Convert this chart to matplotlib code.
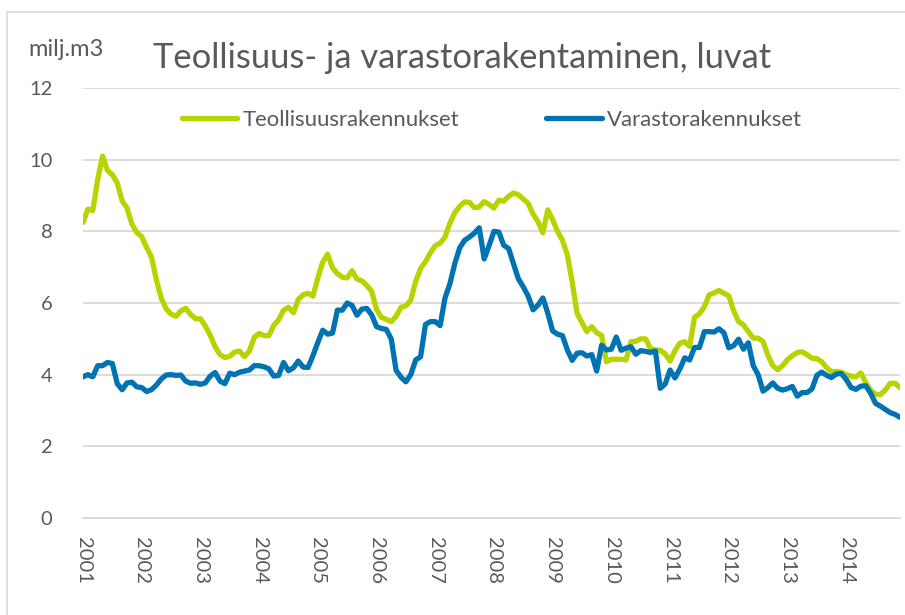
import numpy as np
import matplotlib
matplotlib.use('Agg')
import matplotlib.pyplot as plt
from matplotlib.lines import Line2D

plt.rcParams['font.family'] = ['Lato', 'DejaVu Sans']

years = [str(y) for y in range(2001, 2015)]

# monthly values 2001-01 .. 2014-12, milj. m3
teollisuus = [
    8.25, 8.62, 8.58, 9.45, 10.1, 9.70, 9.58, 9.35, 8.85, 8.65, 8.20, 7.97,
    7.85, 7.55, 7.28, 6.65, 6.13, 5.84, 5.69, 5.63, 5.78, 5.85, 5.68, 5.56,
    5.56, 5.36, 5.10, 4.78, 4.56, 4.48, 4.51, 4.63, 4.66, 4.50, 4.66, 5.04,
    5.15, 5.09, 5.09, 5.38, 5.53, 5.80, 5.88, 5.73, 6.10, 6.23, 6.27, 6.19,
    6.70, 7.14, 7.36, 6.98, 6.82, 6.72, 6.70, 6.90, 6.67, 6.62, 6.49, 6.33,
    5.82, 5.60, 5.54, 5.48, 5.63, 5.88, 5.92, 6.08, 6.60, 6.96, 7.15, 7.40,
    7.60, 7.67, 7.84, 8.23, 8.52, 8.70, 8.82, 8.81, 8.66, 8.68, 8.83, 8.75,
    8.65, 8.87, 8.84, 8.98, 9.07, 9.02, 8.90, 8.78, 8.48, 8.27, 7.96, 8.60,
    8.32, 8.00, 7.75, 7.34, 6.58, 5.71, 5.45, 5.20, 5.34, 5.17, 5.10, 4.36,
    4.43, 4.43, 4.43, 4.41, 4.92, 4.93, 5.00, 5.00, 4.73, 4.69, 4.68, 4.58,
    4.38, 4.67, 4.88, 4.92, 4.79, 5.60, 5.70, 5.89, 6.23, 6.28, 6.35, 6.27,
    6.20, 5.78, 5.48, 5.39, 5.20, 5.02, 5.02, 4.93, 4.54, 4.25, 4.14, 4.25,
    4.42, 4.53, 4.62, 4.64, 4.56, 4.46, 4.45, 4.36, 4.20, 4.08, 4.09, 4.07,
    4.00, 3.96, 3.94, 4.05, 3.78, 3.56, 3.46, 3.44, 3.57, 3.76, 3.76, 3.64,
]

varasto = [
    3.94, 4.00, 3.94, 4.25, 4.25, 4.34, 4.31, 3.75, 3.58, 3.77, 3.79, 3.66,
    3.64, 3.53, 3.58, 3.71, 3.88, 3.99, 4.00, 3.98, 3.99, 3.82, 3.76, 3.77,
    3.73, 3.77, 3.96, 4.06, 3.82, 3.75, 4.04, 4.00, 4.07, 4.10, 4.13, 4.25,
    4.25, 4.22, 4.16, 3.96, 3.98, 4.34, 4.11, 4.19, 4.38, 4.21, 4.20, 4.53,
    4.90, 5.24, 5.13, 5.16, 5.80, 5.80, 6.00, 5.93, 5.66, 5.83, 5.85, 5.67,
    5.34, 5.29, 5.26, 5.00, 4.12, 3.93, 3.80, 4.00, 4.41, 4.50, 5.40, 5.48,
    5.48, 5.37, 6.14, 6.54, 7.10, 7.54, 7.75, 7.84, 7.95, 8.10, 7.23, 7.60,
    8.00, 7.98, 7.61, 7.52, 7.10, 6.67, 6.45, 6.19, 5.81, 5.94, 6.14, 5.72,
    5.22, 5.13, 5.09, 4.69, 4.40, 4.60, 4.61, 4.52, 4.56, 4.10, 4.82, 4.69,
    4.71, 5.05, 4.68, 4.74, 4.78, 4.57, 4.67, 4.65, 4.62, 4.66, 3.62, 3.74,
    4.13, 3.91, 4.16, 4.47, 4.41, 4.76, 4.76, 5.20, 5.20, 5.19, 5.28, 5.17,
    4.75, 4.81, 4.99, 4.71, 4.89, 4.25, 4.00, 3.54, 3.64, 3.77, 3.62, 3.57,
    3.61, 3.67, 3.40, 3.50, 3.50, 3.60, 3.98, 4.07, 3.98, 3.92, 4.02, 4.03,
    3.87, 3.64, 3.59, 3.68, 3.69, 3.48, 3.20, 3.12, 3.03, 2.94, 2.89, 2.81,
]

txt = '#595959'
green = '#b9d300'
blue = '#0073b3'

fig = plt.figure(figsize=(9.05, 6.15), dpi=100)
ax = fig.add_axes([83/905, 1-518/615, (900-83)/905, (518-88)/615])

x = np.arange(len(teollisuus))
ax.plot(x, teollisuus, color=green, lw=3.8, solid_capstyle='round',
        solid_joinstyle='round', label='Teollisuusrakennukset')
ax.plot(x, varasto, color=blue, lw=3.8, solid_capstyle='round',
        solid_joinstyle='round', label='Varastorakennukset')

ax.set_xlim(0, len(x) - 1)
ax.set_ylim(0, 12)
ax.set_yticks(range(0, 13, 2))
ax.set_xticks(range(0, len(x), 12))
ax.set_xticklabels(years, rotation=-90, va='top', ha='center')
ax.tick_params(axis='both', length=0, labelsize=14.5, colors=txt)
ax.tick_params(axis='y', pad=22)
ax.tick_params(axis='x', pad=14)

ax.grid(axis='y', color='#d9d9d9', lw=1.3)
ax.set_axisbelow(True)
for s in ['top', 'right', 'left']:
    ax.spines[s].set_visible(False)
ax.spines['bottom'].set_color('#d9d9d9')
ax.spines['bottom'].set_linewidth(1.3)

fig.text(153/905, 1-68/615, 'Teollisuus- ja varastorakentaminen, luvat',
         fontsize=24.8, color=txt, ha='left', va='baseline')
fig.text(28/905, 1-56/615, 'milj.m3', fontsize=17, color=txt,
         ha='left', va='baseline')

fig.legend(loc='center', bbox_to_anchor=(492/905, 1-120/615), ncol=2,
           frameon=False, fontsize=15.9, labelcolor=txt, handlelength=2.5,
           handletextpad=0.23, columnspacing=3.95)

# chart area border
fig.add_artist(Line2D([7/905, 7/905], [0, 1-12/615], color='#d9d9d9', lw=1.2))
fig.add_artist(Line2D([7/905, 1], [1-12/615, 1-12/615], color='#d9d9d9', lw=1.2))

plt.savefig('out.png', dpi=100)
